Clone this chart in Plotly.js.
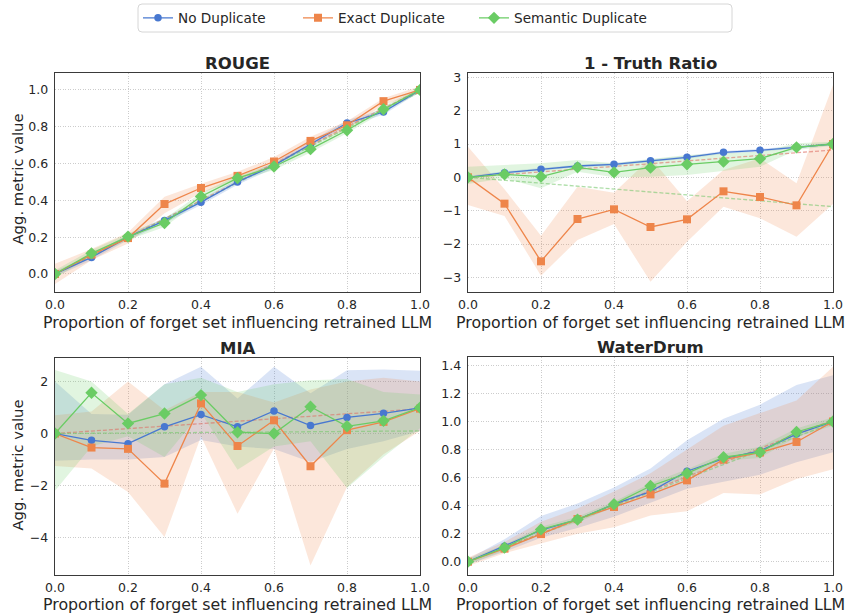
<!DOCTYPE html>
<html>
<head>
<meta charset="utf-8">
<script src="https://cdn.plot.ly/plotly-3.0.1.min.js"></script>
<style>html,body{margin:0;padding:0;background:#fff;}#chart{width:847px;height:613px;}</style>
</head>
<body>
<div id="chart"></div>
<script>
// ---------- data ----------
const xs = [0, 0.1, 0.2, 0.3, 0.4, 0.5, 0.6, 0.7, 0.8, 0.9, 1.0];
const seriesNames = ['No Duplicate', 'Exact Duplicate', 'Semantic Duplicate'];
const panelTitles = ['ROUGE', '1 - Truth Ratio', 'MIA', 'WaterDrum'];
const xTitle = 'Proportion of forget set influencing retrained LLM';
const yTitle = 'Agg. metric value';

// ROUGE
const rougeNo   = [0, 0.09, 0.20, 0.29, 0.39, 0.50, 0.59, 0.705, 0.82, 0.88, 1.0];
const rougeNoHi = [0.015, 0.105, 0.215, 0.305, 0.405, 0.515, 0.605, 0.72, 0.835, 0.895, 1.01];
const rougeNoLo = [-0.015, 0.075, 0.185, 0.275, 0.375, 0.485, 0.575, 0.69, 0.805, 0.865, 0.99];
const rougeEx   = [0, 0.105, 0.195, 0.38, 0.467, 0.533, 0.611, 0.723, 0.808, 0.939, 1.0];
const rougeExHi = [0.055, 0.135, 0.225, 0.42, 0.49, 0.555, 0.635, 0.745, 0.83, 0.955, 1.02];
const rougeExLo = [-0.055, 0.075, 0.165, 0.33, 0.44, 0.51, 0.59, 0.70, 0.785, 0.92, 0.98];
const rougeSe   = [0, 0.112, 0.203, 0.277, 0.421, 0.521, 0.584, 0.678, 0.781, 0.895, 1.0];
const rougeSeHi = [0.02, 0.13, 0.22, 0.30, 0.44, 0.535, 0.60, 0.695, 0.80, 0.91, 1.015];
const rougeSeLo = [-0.02, 0.095, 0.185, 0.255, 0.40, 0.505, 0.565, 0.66, 0.765, 0.88, 0.985];

// 1 - Truth Ratio
const trNo   = [0, 0.14, 0.24, 0.34, 0.39, 0.50, 0.60, 0.75, 0.81, 0.90, 1.0];
const trNoHi = [0.04, 0.18, 0.28, 0.38, 0.43, 0.54, 0.64, 0.79, 0.85, 0.94, 1.04];
const trNoLo = [-0.04, 0.10, 0.20, 0.30, 0.35, 0.46, 0.56, 0.71, 0.77, 0.86, 0.96];
const trEx   = [0, -0.79, -2.52, -1.25, -0.96, -1.49, -1.26, -0.42, -0.59, -0.84, 1.0];
const trExHi = [0.92, -0.36, -1.75, -0.28, -0.46, 0.58, -0.72, 0.22, 0.57, -0.18, 2.77];
const trExLo = [-0.83, -1.16, -2.95, -1.88, -1.40, -3.13, -1.93, -0.88, -1.23, -1.78, -0.8];
const trSe   = [0, 0.09, 0.02, 0.30, 0.15, 0.29, 0.39, 0.47, 0.56, 0.90, 1.0];
const trSeHi = [0.32, 0.37, 0.42, 0.52, 0.42, 0.55, 0.67, 0.72, 0.77, 1.02, 1.07];
const trSeLo = [-0.2, -0.03, -0.33, 0.17, 0.0, 0.02, 0.07, 0.2, 0.32, 0.82, 0.95];

// MIA
const miaNo   = [0, -0.26, -0.39, 0.26, 0.73, 0.26, 0.87, 0.31, 0.62, 0.78, 0.99];
const miaNoHi = [2.0, 0.75, 0.72, 1.9, 2.57, 1.35, 2.57, 1.55, 2.44, 2.47, 2.42];
const miaNoLo = [-1.05, -1.0, -1.0, -0.9, -0.25, -0.5, -0.6, -1.1, -0.6, -0.3, 0.1];
const miaEx   = [0, -0.54, -0.59, -1.93, 1.16, -0.48, 0.51, -1.26, 0.13, 0.45, 0.96];
const miaExHi = [0.7, 0.85, 2.0, 0.9, 1.6, 1.6, 1.2, 1.7, 2.0, 2.15, 2.0];
const miaExLo = [-1.25, -1.35, -2.25, -3.99, -0.1, -3.09, -0.58, -5.08, -2.06, -0.8, 0.1];
const miaSe   = [0, 1.57, 0.39, 0.77, 1.48, 0.05, 0.0, 1.03, 0.28, 0.49, 1.0];
const miaSeHi = [2.45, 2.0, 0.75, 1.9, 2.15, 1.6, 1.9, 2.05, 2.1, 1.6, 1.5];
const miaSeLo = [-2.2, -0.5, -0.1, -0.9, 0.8, -1.4, -0.5, -0.3, -2.1, -0.9, 0.2];

// WaterDrum
const wdNo   = [0, 0.11, 0.225, 0.30, 0.41, 0.50, 0.645, 0.735, 0.79, 0.91, 1.0];
const wdNoHi = [0.02, 0.16, 0.325, 0.415, 0.53, 0.665, 0.866, 1.02, 1.12, 1.26, 1.33];
const wdNoLo = [-0.02, 0.07, 0.17, 0.24, 0.32, 0.42, 0.52, 0.57, 0.62, 0.71, 0.78];
const wdEx   = [0, 0.093, 0.197, 0.304, 0.39, 0.48, 0.58, 0.728, 0.778, 0.854, 1.0];
const wdExHi = [0.03, 0.14, 0.285, 0.38, 0.50, 0.63, 0.80, 0.97, 1.06, 1.15, 1.39];
const wdExLo = [-0.03, 0.06, 0.13, 0.20, 0.245, 0.33, 0.36, 0.49, 0.48, 0.59, 0.66];
const wdSe   = [0, 0.10, 0.23, 0.30, 0.41, 0.54, 0.63, 0.745, 0.78, 0.925, 1.0];
const wdSeHi = [0.02, 0.12, 0.25, 0.32, 0.43, 0.56, 0.66, 0.77, 0.82, 0.95, 1.03];
const wdSeLo = [-0.02, 0.08, 0.20, 0.28, 0.39, 0.51, 0.60, 0.72, 0.74, 0.89, 0.97];

// dashed reference (fit) lines: value at x=0 and x=1 per panel
const fitX = [0, 1];
const fitRed   = [[0, 1.0], [0, 0.82], [0, 0.95], [0, 1.01]];
const fitGreen = [[0, 0.99], [0, -0.88], [0, 0.10], [0, 0.99]];

// y ticks per panel
const yTicks = [
  [0, 0.2, 0.4, 0.6, 0.8, 1.0],
  [-3, -2, -1, 0, 1, 2, 3],
  [-4, -2, 0, 2],
  [0, 0.2, 0.4, 0.6, 0.8, 1.0, 1.2, 1.4]
];
const xTicks = [0, 0.2, 0.4, 0.6, 0.8, 1.0];

// ---------- style ----------
const colors = ['#4878d0', '#ee854a', '#6acc64'];
const fills = ['rgba(72,120,208,0.2)', 'rgba(238,133,74,0.2)', 'rgba(106,204,100,0.2)'];
const symbols = ['circle', 'square', 'diamond'];
const markerSizes = [7.5, 8, 9.5];
const FONT = 'DejaVu Sans';
const TXT = '#262626';

const panels = [
  {mean: [rougeNo, rougeEx, rougeSe], hi: [rougeNoHi, rougeExHi, rougeSeHi], lo: [rougeNoLo, rougeExLo, rougeSeLo], range: [-0.098, 1.092], fmt: '.1f'},
  {mean: [trNo, trEx, trSe], hi: [trNoHi, trExHi, trSeHi], lo: [trNoLo, trExLo, trSeLo], range: [-3.44, 3.13], fmt: 'd'},
  {mean: [miaNo, miaEx, miaSe], hi: [miaNoHi, miaExHi, miaSeHi], lo: [miaNoLo, miaExLo, miaSeLo], range: [-5.45, 2.91], fmt: 'd'},
  {mean: [wdNo, wdEx, wdSe], hi: [wdNoHi, wdExHi, wdSeHi], lo: [wdNoLo, wdExLo, wdSeLo], range: [-0.095, 1.46], fmt: '.1f'}
];

const W = 847, H = 613;
const xDomains = [[55 / W, 420 / W], [468 / W, 833 / W], [55 / W, 420 / W], [468 / W, 833 / W]];
const yDomains = [[1 - 292 / H, 1 - 73 / H], [1 - 292 / H, 1 - 73 / H], [1 - 575 / H, 1 - 358 / H], [1 - 575 / H, 1 - 357 / H]];
const xTitleY = [322, 322, 604, 604];   // px from top, centre of x-axis title
const legendX = [138, 298, 474];        // px, left of each legend entry

const traces = [];
panels.forEach((p, pi) => {
  const xa = pi === 0 ? 'x' : 'x' + (pi + 1);
  const ya = pi === 0 ? 'y' : 'y' + (pi + 1);
  for (let s = 0; s < 3; s++) {
    traces.push({
      x: xs.concat(xs.slice().reverse()),
      y: p.hi[s].concat(p.lo[s].slice().reverse()),
      xaxis: xa, yaxis: ya, type: 'scatter', mode: 'lines',
      fill: 'toself', fillcolor: fills[s], line: {width: 0, color: 'rgba(0,0,0,0)'},
      hoverinfo: 'skip', showlegend: false
    });
  }
  traces.push({x: fitX, y: fitRed[pi], xaxis: xa, yaxis: ya, type: 'scatter', mode: 'lines',
    line: {color: 'rgba(222,110,100,0.6)', width: 1.3, dash: '4px,2px'}, showlegend: false, hoverinfo: 'skip'});
  traces.push({x: fitX, y: fitGreen[pi], xaxis: xa, yaxis: ya, type: 'scatter', mode: 'lines',
    line: {color: 'rgba(120,200,110,0.6)', width: 1.3, dash: '4px,2px'}, showlegend: false, hoverinfo: 'skip'});
  for (let s = 0; s < 3; s++) {
    traces.push({
      x: xs, y: p.mean[s], xaxis: xa, yaxis: ya, type: 'scatter', mode: 'lines+markers',
      name: seriesNames[s], legendgroup: seriesNames[s], showlegend: pi === 0,
      legend: s === 0 ? 'legend' : 'legend' + (s + 1),
      line: {color: colors[s], width: 1.3},
      marker: {color: colors[s], symbol: symbols[s], size: markerSizes[s]}
    });
  }
});

// rounded legend frame
const fx0 = 138 / W, fx1 = 732 / W, fy0 = 1 - 32 / H, fy1 = 1 - 4 / H, rx = 4 / W, ry = 4 / H;
const framePath = `M ${fx0 + rx},${fy1} L ${fx1 - rx},${fy1} Q ${fx1},${fy1} ${fx1},${fy1 - ry} L ${fx1},${fy0 + ry} Q ${fx1},${fy0} ${fx1 - rx},${fy0} L ${fx0 + rx},${fy0} Q ${fx0},${fy0} ${fx0},${fy0 + ry} L ${fx0},${fy1 - ry} Q ${fx0},${fy1} ${fx0 + rx},${fy1} Z`;

const layout = {
  width: W, height: H,
  margin: {l: 0, r: 0, t: 0, b: 0},
  paper_bgcolor: '#ffffff', plot_bgcolor: '#ffffff',
  font: {family: FONT, size: 12.5, color: TXT},
  showlegend: true,
  annotations: [],
  shapes: [{type: 'path', xref: 'paper', yref: 'paper', path: framePath,
    line: {color: '#d6d6d6', width: 1}, fillcolor: 'rgba(0,0,0,0)', layer: 'above'}]
};
legendX.forEach((lx, i) => {
  const key = i === 0 ? 'legend' : 'legend' + (i + 1);
  layout[key] = {
    orientation: 'h', x: lx / W, xanchor: 'left', y: 1 - 18 / H, yanchor: 'middle',
    borderwidth: 0, bgcolor: 'rgba(0,0,0,0)',
    font: {family: FONT, size: 13.6, color: TXT}
  };
});

panels.forEach((p, pi) => {
  const k = pi === 0 ? '' : String(pi + 1);
  const xa = 'xaxis' + k, ya = 'yaxis' + k;
  const common = {
    showgrid: true, gridcolor: '#cccccc', griddash: '1px,1.5px', gridwidth: 1,
    showline: true, mirror: true, linecolor: '#3a3a3a', linewidth: 1.3,
    zeroline: false, ticks: 'outside', tickcolor: 'rgba(0,0,0,0)',
    tickfont: {family: FONT, size: 12.5, color: TXT}, automargin: false
  };
  layout[xa] = Object.assign({}, common, {
    domain: xDomains[pi], anchor: 'y' + k, range: [0, 1],
    tickvals: xTicks, tickformat: '.1f', ticklen: 1
  });
  layout[ya] = Object.assign({}, common, {
    domain: yDomains[pi], anchor: 'x' + k, range: p.range,
    tickvals: yTicks[pi], tickformat: p.fmt, ticklen: 3
  });
  // panel title
  layout.annotations.push({
    text: '<b>' + panelTitles[pi] + '</b>',
    xref: 'paper', yref: 'paper',
    x: (xDomains[pi][0] + xDomains[pi][1]) / 2, y: yDomains[pi][1],
    xanchor: 'center', yanchor: 'bottom', yshift: -2, showarrow: false,
    font: {family: FONT, size: 16.5, color: TXT}
  });
  // x-axis title
  layout.annotations.push({
    text: xTitle, xref: 'paper', yref: 'paper',
    x: (xDomains[pi][0] + xDomains[pi][1]) / 2, y: 1 - xTitleY[pi] / H,
    xanchor: 'center', yanchor: 'middle', showarrow: false,
    font: {family: FONT, size: 15.8, color: TXT}
  });
  // y-axis title (left column only)
  if (pi === 0 || pi === 2) {
    layout.annotations.push({
      text: yTitle, xref: 'paper', yref: 'paper', textangle: -90,
      x: 17 / W, y: (yDomains[pi][0] + yDomains[pi][1]) / 2 + (pi === 0 ? 3 / H : 1 / H),
      xanchor: 'center', yanchor: 'middle', showarrow: false,
      font: {family: FONT, size: 14.8, color: TXT}
    });
  }
});

Plotly.newPlot('chart', traces, layout, {displayModeBar: false, staticPlot: true});
</script>
</body>
</html>
